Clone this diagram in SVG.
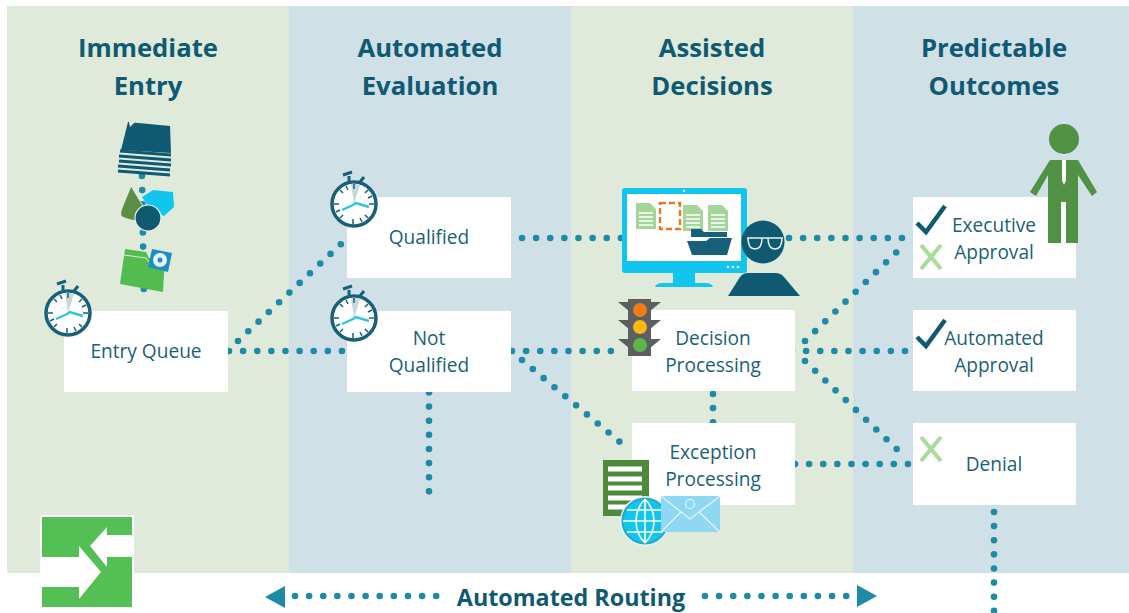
<svg xmlns="http://www.w3.org/2000/svg" width="1129" height="613" viewBox="0 0 1129 613">
<style>
.hd{font:700 25.7px "Open Sans",sans-serif;fill:#0f5a72;text-anchor:middle}
.lb{font:400 19.1px "Open Sans",sans-serif;fill:#1a5f78;text-anchor:middle}
.box{fill:#fff}
.dot{fill:none;stroke:#1f8aa6;stroke-width:6.6;stroke-linecap:round;stroke-dasharray:0 14.12}
.tick{fill:none;stroke:#0f5a72;stroke-width:4.5}
.cross{fill:none;stroke:#a8dc98;stroke-width:4}
</style>
<defs>
<g id="watch">
<path d="M-11-29l9-3M-5-23v-5M10-27l-4 5" stroke="#17607a" stroke-width="3" fill="none"/>
<circle r="22" fill="#fff" stroke="#17607a" stroke-width="3.5"/>
<path d="M0 0L-3-20A20 20 0 0 1 6-19Z" fill="#c5d8dc"/>
<path d="M0-20v5M-1 15v5M-20 0h5M15 0h5M-14-14l3 3M11 11l3 3M14-14l-3 3M-11 11l-3 3M-8-18l2 4M8 18l-2-4M-18 8l4-2M18-8l-4 2" stroke="#17607a" stroke-width="1.5"/>
<path d="M-12 6L-1 1 2-1 15 3" stroke="#2cc3e6" stroke-width="2.4" fill="none"/>
</g>
<g id="doc"><path d="M0 0h14l6 6v20H0z" fill="#a5d59b"/><path d="M3 10h14M3 14h14M3 18h14M3 22h14" stroke="#fff" stroke-width="1.4"/></g>
</defs>
<rect width="1129" height="613" fill="#fff"/>
<g id="bands">
<rect x="7" y="6" width="282" height="567" fill="#dfeadb"/>
<rect x="289" y="6" width="282" height="567" fill="#cfe0e6"/>
<rect x="571" y="6" width="282" height="567" fill="#dfeadb"/>
<rect x="853" y="6" width="276" height="567" fill="#cfe0e6"/>
</g>
<g id="headers">
<text class="hd" x="148" y="57">Immediate</text><text class="hd" x="148" y="95">Entry</text>
<text class="hd" x="430" y="57">Automated</text><text class="hd" x="430" y="95">Evaluation</text>
<text class="hd" x="712" y="57">Assisted</text><text class="hd" x="712" y="95">Decisions</text>
<text class="hd" x="994" y="57">Predictable</text><text class="hd" x="994" y="95">Outcomes</text>
</g>
<g id="connectors">
<path class="dot" d="M142 176L144 303"/>
<path class="dot" d="M229 351H342"/>
<path class="dot" d="M238 341L341 244"/>
<path class="dot" d="M522 238H621"/>
<path class="dot" d="M512 351H624"/>
<path class="dot" d="M522 360L630 450.5"/>
<path class="dot" d="M429 392.5V492"/>
<path class="dot" d="M789 238H903"/>
<path class="dot" d="M792 351H906"/>
<path class="dot" d="M805 341L906 243"/>
<path class="dot" d="M805 361L906 458"/>
<path class="dot" d="M713 394V423"/>
<path class="dot" d="M795 464H908"/>
<path class="dot" d="M994 512V611"/>
</g>
<g id="entry-stack">
<path d="M121 150L128 122 170 126 171 153Z" fill="#0f5a72"/>
<path d="M120 151L171 155M119 156L171 160M119 161L171 165M118 166L170 170M118 171L170 175" stroke="#0f5a72" stroke-width="3" fill="none"/>
<path d="M129 122l6 0-5 5z" fill="#eef5ea"/>
</g>
<g id="entry-shapes">
<path d="M131 186L143 206 136 221Q125 219 121 216Q120 212 122 208Z" fill="#5a8f45" stroke="#eef5ea" stroke-width=".8"/>
<path d="M142 197L153 190 173 192 174 207 164 216 150 209Z" fill="#10c5ee"/>
<circle cx="148" cy="218" r="13" fill="#0f5a72" stroke="#eef5ea" stroke-width="1.2"/>
</g>
<g id="entry-folder">
<path d="M125 249L146 252 149 258 165 256 163 292 120 284Z" fill="#54bb50"/>
<path d="M124 255L146 258 150 263 165 260" stroke="#d5efd2" stroke-width="1" fill="none"/>
<path d="M152 249L172 253 168 272 148 267Z" fill="#1a8fc0"/>
<circle cx="160" cy="260" r="7" fill="#e8f6fa"/><circle cx="160" cy="260" r="2.5" fill="#1a8fc0"/>
</g>
<g id="node-entry-queue"><rect class="box" x="64" y="311" width="164" height="81"/><text class="lb" x="146" y="358">Entry Queue</text><use href="#watch" x="68" y="313"/></g>
<g id="node-qualified"><rect class="box" x="347" y="197" width="164" height="81"/><text class="lb" x="429" y="244">Qualified</text><use href="#watch" x="354" y="204"/></g>
<g id="node-not-qualified"><rect class="box" x="347" y="311" width="164" height="81"/><text class="lb" x="429" y="345">Not</text><text class="lb" x="429" y="372">Qualified</text><use href="#watch" x="354" y="318"/></g>
<g id="monitor">
<rect x="622" y="188" width="125" height="85" rx="3" fill="#10c5ee"/>
<rect x="627" y="194" width="114" height="67" fill="#fff"/>
<path d="M673 273h22v10h10q7 0 8 4h-58q1-4 8-4h10z" fill="#10c5ee"/>
<use href="#doc" x="636" y="203"/>
<rect x="660" y="203" width="20" height="26" fill="none" stroke="#e87722" stroke-width="2.4" stroke-dasharray="6 3"/>
<use href="#doc" x="683" y="205"/><use href="#doc" x="708" y="205"/>
<path d="M691 229h10l3 3h23v5h-36zM687 241h19l4-3h22l-5 17h-35z" fill="#17607a"/>
<circle cx="684" cy="191" r="1.2" fill="#fff"/>
<circle cx="728" cy="267" r="1.3" fill="#fff"/><circle cx="733" cy="267" r="1.3" fill="#fff"/><circle cx="738" cy="267" r="1.3" fill="#fff"/>
</g>
<g id="person"><circle cx="763" cy="242" r="21.5" fill="#0f5a72"/>
<path d="M747 238h36M748 238q0 11 7 11t7-11M768 238q0 11 7 11t7-11" stroke="#e6f2f4" stroke-width="1.5" fill="none"/>
<path d="M728 296L740 277Q743 273 748 273H775Q781 273 784 277L800 296Z" fill="#0f5a72"/></g>
<g id="node-decision"><rect class="box" x="632" y="310" width="163" height="81"/><text class="lb" x="713" y="345">Decision</text><text class="lb" x="713" y="372">Processing</text>
<path d="M618 302h11v9zM661 302h-11v9zM618 320h11v9zM661 320h-11v9zM618 339h11v9zM661 339h-11v9z" fill="#595f60"/>
<rect x="628" y="299" width="23" height="57" fill="#5a5f60"/><circle cx="640" cy="310" r="7" fill="#f47b12"/><circle cx="640" cy="327" r="7" fill="#fbb812"/><circle cx="640" cy="345" r="7" fill="#5cb84a"/></g>
<g id="node-exception"><rect class="box" x="632" y="423" width="163" height="82"/><text class="lb" x="713" y="459">Exception</text><text class="lb" x="713" y="486">Processing</text>
<rect x="603" y="460" width="46" height="56" fill="#4f8a3c"/>
<path d="M608 469h34M608 479h34M608 488h34M608 498h34M608 507h34" stroke="#fff" stroke-width="5"/>
<circle cx="645" cy="521" r="25" fill="#e4f5f9"/><circle cx="645" cy="521" r="22.5" fill="#10c5ee" stroke="#24a8c8" stroke-width="2"/>
<path d="M645 499c-12 12-12 32 0 44M645 499c12 12 12 32 0 44M623 521h44M627 510h36M627 532h36M645 499v44" stroke="#fff" stroke-width="1.6" fill="none"/>
<rect x="661" y="496" width="59" height="36" fill="#8fd7f3"/>
<path d="M661 496l29 23 30-23M661 532l20-20M720 532l-21-20" stroke="#eaf7fc" stroke-width="1.2" fill="none"/><circle cx="690" cy="504" r="4.5" fill="none" stroke="#eaf7fc" stroke-width="1.2"/>
</g>
<g id="node-executive"><rect class="box" x="913" y="197" width="163" height="81"/><text class="lb" x="994" y="232">Executive</text><text class="lb" x="994" y="259">Approval</text>
<path class="tick" d="M917 223l9 9 19-26"/>
<path class="cross" d="M921 245l20 24M941 245l-20 24"/></g>
<g id="person-green"><circle cx="1064" cy="139" r="15" fill="#509144"/>
<path d="M1050 160H1078L1097 192 1092 196 1078 175V243H1066V202H1061V243H1048V175L1036 196 1030 192Z" fill="#509144"/><path d="M1062 160h4v20l-2 5-2-5z" fill="#fff"/></g>
<g id="node-automated"><rect class="box" x="913" y="310" width="163" height="81"/><text class="lb" x="994" y="345">Automated</text><text class="lb" x="994" y="372">Approval</text>
<path class="tick" d="M917 337l9 9 19-26"/></g>
<g id="node-denial"><rect class="box" x="913" y="423" width="163" height="82"/><text class="lb" x="994" y="471">Denial</text>
<path class="cross" d="M921 437l20 24M941 437l-20 24"/></g>
<g id="routing-icon"><rect x="40" y="515" width="94" height="94" fill="#fff"/><rect x="42" y="517" width="90" height="90" fill="#54bf54"/>
<path d="M134 535H107V527L90 546 107 567V557H134Z" fill="#fff"/>
<path d="M40 557H79V546L101 572 79 599V587H40Z" fill="#fff"/></g>
<g id="routing">
<text x="571" y="606" style="font:700 23.3px 'Open Sans',sans-serif;fill:#0f5a72;text-anchor:middle">Automated Routing</text>
<path d="M265 597L285 586V608Z" fill="#1f8aa6"/><path d="M877 596L857 585V607Z" fill="#1f8aa6"/>
<path class="dot" d="M295 596H438"/><path class="dot" d="M705 596H848"/>
</g>
</svg>
